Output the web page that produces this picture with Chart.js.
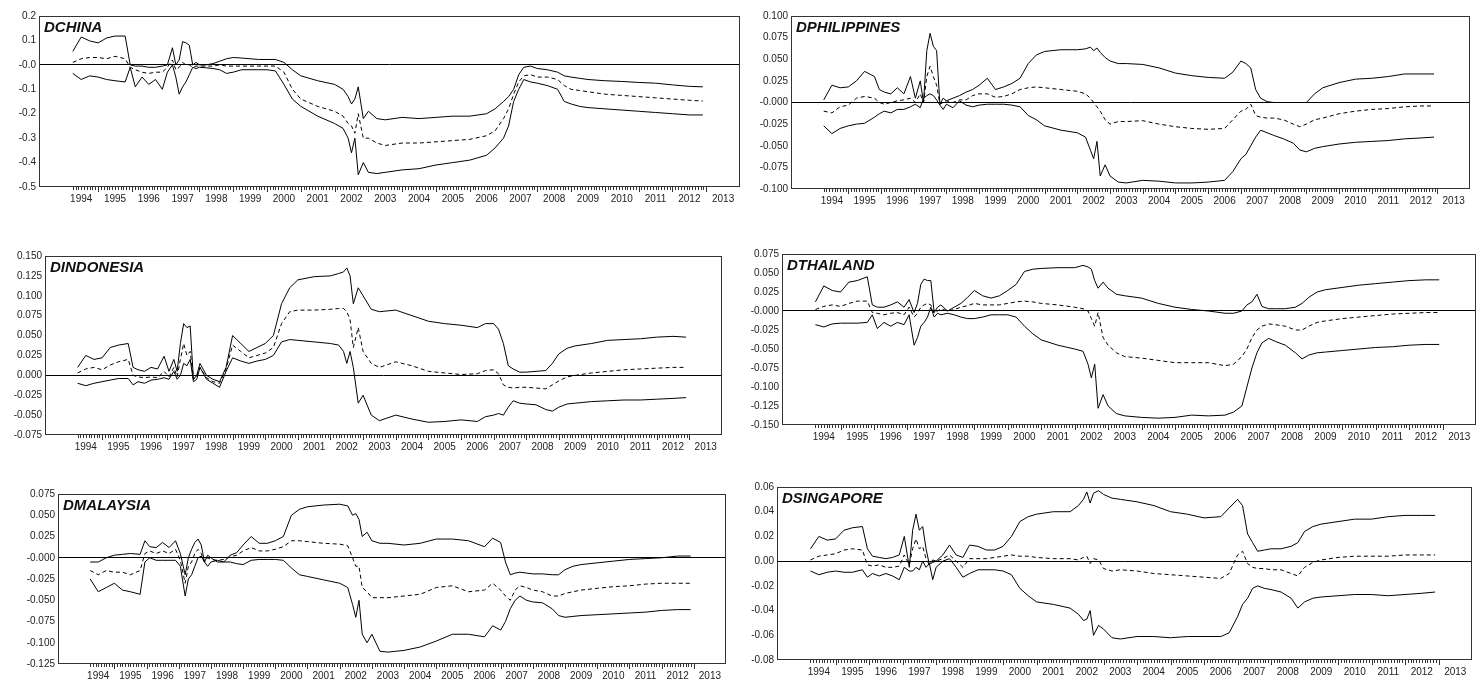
<!DOCTYPE html>
<html>
<head>
<meta charset="utf-8">
<script src="https://cdn.jsdelivr.net/npm/chart.js@4.4.1/dist/chart.umd.min.js"></script>
<style>
  html, body { margin: 0; padding: 0; background: #fff; overflow: hidden; }
  #page { position: relative; width: 1476px; height: 694px; }
  canvas { position: absolute; }
</style>
</head>
<body>
<div id="page"></div>
<script>
// time axis shared by all six panels (decimal years)
const dates = [
  1994.25, 1994.5, 1994.75, 1995.0, 1995.25, 1995.5, 1995.8, 1995.95, 1996.1, 1996.3,
  1996.5, 1996.7, 1996.9, 1997.05, 1997.2, 1997.3, 1997.4, 1997.5, 1997.6, 1997.7,
  1997.8, 1997.9, 1998.0, 1998.2, 1998.4, 1998.6, 1998.8, 1999.0, 1999.25, 1999.5,
  1999.75, 2000.0, 2000.25, 2000.5, 2000.75, 2001.0, 2001.5, 2002.0, 2002.25, 2002.4,
  2002.5, 2002.6, 2002.7, 2002.85, 2003.0, 2003.25, 2003.5, 2004.0, 2004.5, 2005.0,
  2005.5, 2006.0, 2006.5, 2006.75, 2007.0, 2007.15, 2007.3, 2007.45, 2007.6, 2007.8,
  2008.0, 2008.3, 2008.6, 2008.8, 2009.0, 2009.25, 2009.5, 2010.0, 2010.5, 2011.0,
  2011.5, 2012.0, 2012.5, 2012.9
];

const yearLabels = ['1994', '1995', '1996', '1997', '1998', '1999', '2000', '2001', '2002', '2003',
  '2004', '2005', '2006', '2007', '2008', '2009', '2010', '2011', '2012', '2013'];

// DCHINA
const chinaTicks = ['0.2', '0.1', '-0.0', '-0.1', '-0.2', '-0.3', '-0.4', '-0.5'];
const chinaUpper = [
  0.055, 0.114, 0.098, 0.09, 0.11, 0.118, 0.118, 0.0, -0.005, -0.005,
  -0.01, -0.01, -0.005, 0.0, 0.07, 0.0, 0.02, 0.095, 0.09, 0.08,
  0.0, 0.01, 0.0, 0.0, 0.005, 0.015, 0.025, 0.03, 0.028, 0.025,
  0.022, 0.022, 0.022, 0.01, -0.02, -0.045, -0.065, -0.08, -0.1, -0.13,
  -0.16, -0.14, -0.09, -0.22, -0.19, -0.22, -0.225, -0.215, -0.22, -0.215,
  -0.21, -0.21, -0.2, -0.18, -0.15, -0.13, -0.1, -0.04, -0.01, -0.005,
  -0.015, -0.02, -0.03, -0.045, -0.05, -0.055, -0.06, -0.065, -0.068, -0.072,
  -0.075, -0.082, -0.088, -0.09
];
const chinaMid = [
  0.01, 0.025, 0.03, 0.03, 0.025, 0.035, 0.025, -0.01, -0.02, -0.03,
  -0.035, -0.03, -0.03, -0.01, 0.02, -0.02, -0.01, 0.01, 0.0, 0.0,
  -0.01, -0.005, -0.005, -0.005, -0.005, 0.0, -0.005, -0.005, -0.005, -0.005,
  -0.005, -0.005, -0.005, -0.03, -0.1, -0.14, -0.17, -0.19, -0.21, -0.24,
  -0.25, -0.28, -0.2, -0.3, -0.3, -0.32, -0.33, -0.32, -0.32, -0.315,
  -0.31, -0.305, -0.29, -0.27, -0.22, -0.18, -0.12, -0.07, -0.045, -0.04,
  -0.05, -0.05, -0.06, -0.085, -0.1, -0.105, -0.11, -0.12, -0.125, -0.13,
  -0.135, -0.14, -0.145, -0.148
];
const chinaLower = [
  -0.035, -0.06, -0.045, -0.05, -0.06, -0.065, -0.07, -0.01, -0.09, -0.05,
  -0.08, -0.06, -0.1, -0.03, 0.0, -0.05, -0.12, -0.09, -0.07, -0.04,
  -0.01, -0.015, -0.01, -0.012, -0.015, -0.02, -0.035, -0.03, -0.02, -0.02,
  -0.02, -0.02, -0.025, -0.08, -0.14, -0.17, -0.21, -0.24, -0.26, -0.3,
  -0.36, -0.3, -0.45, -0.4, -0.44, -0.445, -0.44, -0.43, -0.425, -0.41,
  -0.4, -0.39, -0.37, -0.34, -0.3, -0.25, -0.15, -0.1, -0.06, -0.07,
  -0.075, -0.085, -0.1, -0.15, -0.16, -0.17, -0.175, -0.18, -0.185, -0.19,
  -0.195, -0.2, -0.205, -0.205
];

// DPHILIPPINES
const phTicks = ['0.100', '0.075', '0.050', '0.025', '-0.000', '-0.025', '-0.050', '-0.075', '-0.100'];
const phUpper = [
  0.003, 0.02, 0.017, 0.018, 0.025, 0.036, 0.03, 0.015, 0.012, 0.01,
  0.017, 0.01, 0.03, 0.005, 0.025, 0.0, 0.06, 0.08, 0.065, 0.06,
  -0.002, 0.005, 0.002, 0.005, 0.008, 0.012, 0.015, 0.02, 0.028, 0.015,
  0.018, 0.022, 0.028, 0.045, 0.055, 0.059, 0.061, 0.061, 0.062, 0.064,
  0.06, 0.063, 0.058, 0.052, 0.048, 0.045, 0.045, 0.044, 0.04, 0.034,
  0.031, 0.029, 0.028, 0.035, 0.048, 0.045, 0.04, 0.015, 0.005, 0.001,
  0.0, 0.0, 0.0, 0.0, 0.0, 0.01, 0.017, 0.023, 0.027, 0.028,
  0.03, 0.033, 0.033, 0.033
];
const phMid = [
  -0.01, -0.012, -0.005, -0.003, 0.005, 0.007, 0.005, 0.0, -0.002, 0.0,
  0.002, 0.003, 0.005, 0.0, 0.01, 0.0, 0.03, 0.042, 0.03, 0.02,
  -0.002, 0.0, 0.002, 0.0, 0.003, 0.003, 0.008, 0.01, 0.01, 0.006,
  0.007, 0.01, 0.015, 0.017, 0.018, 0.017, 0.015, 0.013, 0.01, 0.005,
  0.0, -0.005, -0.01, -0.02, -0.025, -0.022, -0.022, -0.021, -0.025, -0.028,
  -0.03, -0.031, -0.03, -0.02, -0.01, -0.008, -0.002, -0.015, -0.017, -0.018,
  -0.018, -0.02, -0.025, -0.028, -0.025, -0.02, -0.018, -0.013, -0.01, -0.008,
  -0.007, -0.005, -0.004, -0.004
];
const phLower = [
  -0.027, -0.036, -0.03, -0.027, -0.025, -0.024, -0.017, -0.013, -0.01, -0.012,
  -0.008, -0.008, -0.005, -0.002, -0.006, 0.005, 0.008, 0.01, 0.008, 0.003,
  -0.003, -0.008, -0.002, -0.006, 0.002, -0.003, -0.005, -0.003, -0.002, -0.002,
  -0.002, -0.003, -0.005, -0.015, -0.02, -0.027, -0.032, -0.035, -0.04, -0.055,
  -0.065, -0.045, -0.085, -0.072, -0.085, -0.092, -0.093, -0.09, -0.091, -0.093,
  -0.093, -0.092, -0.09, -0.08, -0.065, -0.06, -0.05, -0.04, -0.032, -0.035,
  -0.038, -0.042, -0.047, -0.055, -0.057, -0.053, -0.051, -0.048, -0.046, -0.045,
  -0.044, -0.042, -0.041, -0.04
];

// DINDONESIA
const idTicks = ['0.150', '0.125', '0.100', '0.075', '0.050', '0.025', '0.000', '-0.025', '-0.050', '-0.075'];
const idUpper = [
  0.01, 0.025, 0.02, 0.022, 0.035, 0.038, 0.04, 0.01, 0.007, 0.005,
  0.01, 0.008, 0.024, 0.005, 0.02, 0.005, 0.04, 0.065, 0.06, 0.062,
  -0.005, 0.0, 0.015, 0.0, -0.005, -0.008, 0.01, 0.05, 0.04, 0.03,
  0.035, 0.04, 0.05, 0.09, 0.11, 0.12, 0.124, 0.125, 0.128, 0.13,
  0.135, 0.125, 0.09, 0.11, 0.1, 0.083, 0.08, 0.082, 0.075, 0.068,
  0.065, 0.063, 0.06, 0.065, 0.065, 0.058, 0.04, 0.012, 0.008, 0.004,
  0.004, 0.005, 0.006, 0.015, 0.027, 0.034, 0.037, 0.04, 0.044, 0.045,
  0.046, 0.048, 0.049, 0.048
];
const idMid = [
  0.003, 0.008, 0.01, 0.007, 0.013, 0.017, 0.02, 0.0, -0.002, -0.003,
  -0.002, -0.003, 0.005, -0.002, 0.01, -0.002, 0.02, 0.04, 0.025, 0.03,
  -0.005, -0.002, 0.01, -0.003, -0.008, -0.01, 0.008, 0.038, 0.03, 0.022,
  0.025, 0.028, 0.035, 0.065, 0.08, 0.082, 0.082, 0.083, 0.084, 0.084,
  0.08, 0.07, 0.035, 0.06, 0.03, 0.015, 0.01, 0.017, 0.012, 0.005,
  0.003, 0.001, 0.002, 0.006, 0.007, 0.002, -0.012, -0.015, -0.016, -0.015,
  -0.015, -0.016, -0.017, -0.012, -0.007, -0.002, 0.0, 0.003, 0.005, 0.007,
  0.008, 0.009, 0.01, 0.01
];
const idLower = [
  -0.01, -0.013, -0.01, -0.008, -0.006, -0.004, -0.004, -0.012, -0.008, -0.01,
  -0.006, -0.005, -0.003, -0.005, 0.005, -0.005, 0.0, 0.015, 0.012, 0.02,
  -0.008, -0.005, 0.01, -0.005, -0.01, -0.015, 0.005, 0.022, 0.018, 0.015,
  0.018, 0.02, 0.025, 0.042, 0.045, 0.044, 0.042, 0.04, 0.038, 0.03,
  0.015, 0.03, 0.01, -0.035, -0.025, -0.05, -0.057, -0.05, -0.055, -0.059,
  -0.058, -0.056, -0.058, -0.052, -0.05, -0.048, -0.05, -0.04, -0.032, -0.035,
  -0.036, -0.037, -0.043, -0.045, -0.04, -0.036, -0.035, -0.033, -0.032, -0.031,
  -0.031, -0.03, -0.029, -0.028
];

// DTHAILAND
const thTicks = ['0.075', '0.050', '0.025', '-0.000', '-0.025', '-0.050', '-0.075', '-0.100', '-0.125', '-0.150'];
const thUpper = [
  0.012, 0.033, 0.027, 0.025, 0.038, 0.04, 0.045, 0.008, 0.005, 0.005,
  0.008, 0.012, 0.005, 0.015, -0.002, 0.01, 0.035, 0.042, 0.04, 0.04,
  -0.002, 0.005, 0.008, 0.0, 0.005, 0.01, 0.018, 0.027, 0.02, 0.017,
  0.02, 0.027, 0.035, 0.052, 0.055, 0.056, 0.057, 0.057, 0.06, 0.058,
  0.055, 0.04, 0.03, 0.038, 0.03, 0.022, 0.02, 0.017, 0.01, 0.005,
  0.002, 0.0, -0.003, -0.003, 0.0, 0.008, 0.012, 0.022, 0.006, 0.003,
  0.003, 0.003, 0.005, 0.01, 0.018, 0.025, 0.028, 0.031, 0.034, 0.036,
  0.038, 0.04, 0.041, 0.041
];
const thMid = [
  0.002, 0.006, 0.008, 0.006, 0.01, 0.013, 0.013, -0.002, -0.003, -0.005,
  -0.003, -0.002, -0.005, 0.005, -0.008, -0.003, 0.005, 0.008, 0.01, 0.008,
  -0.003, 0.0, 0.003, 0.0, 0.002, 0.005, 0.007, 0.01, 0.008, 0.008,
  0.008, 0.01, 0.012, 0.013, 0.012, 0.01, 0.008, 0.005, 0.003, 0.0,
  -0.01, -0.02, -0.002, -0.035, -0.045, -0.055, -0.06, -0.062, -0.065, -0.068,
  -0.068, -0.068, -0.072, -0.07, -0.06, -0.05, -0.035, -0.025, -0.02, -0.017,
  -0.018, -0.02, -0.025, -0.025, -0.02, -0.015, -0.013, -0.01, -0.008, -0.006,
  -0.004, -0.003, -0.002, -0.002
];
const thLower = [
  -0.018, -0.021, -0.017, -0.016, -0.016, -0.016, -0.015, -0.005, -0.023, -0.015,
  -0.02, -0.015, -0.018, -0.005, -0.045, -0.035, -0.02, -0.015, -0.008, 0.005,
  -0.008, -0.003, -0.005, -0.003, -0.005, -0.008, -0.01, -0.01, -0.008, -0.005,
  -0.005, -0.005, -0.008, -0.02, -0.03, -0.038, -0.045, -0.05, -0.053, -0.07,
  -0.088, -0.07, -0.128, -0.11, -0.125, -0.135, -0.138, -0.14, -0.141, -0.14,
  -0.137, -0.138, -0.137, -0.133, -0.125, -0.1, -0.075, -0.055, -0.042, -0.036,
  -0.04, -0.045, -0.055, -0.063, -0.058, -0.055, -0.054, -0.052, -0.05, -0.048,
  -0.047, -0.045, -0.044, -0.044
];

// DMALAYSIA
const myTicks = ['0.075', '0.050', '0.025', '-0.000', '-0.025', '-0.050', '-0.075', '-0.100', '-0.125'];
const myUpper = [
  -0.005, -0.005, 0.0, 0.003, 0.004, 0.005, 0.004, 0.02, 0.013, 0.012,
  0.018, 0.012, 0.02, 0.005, -0.02, 0.0, 0.01, 0.018, 0.022, 0.015,
  -0.005, 0.003, 0.0, -0.005, -0.005, 0.003, 0.006, 0.015, 0.025, 0.017,
  0.017, 0.02, 0.025, 0.05, 0.057, 0.06, 0.062, 0.063, 0.061, 0.05,
  0.052, 0.045, 0.025, 0.03, 0.02, 0.017, 0.017, 0.015, 0.017, 0.022,
  0.022, 0.02, 0.013, 0.023, 0.018, -0.005, -0.02, -0.018, -0.017, -0.018,
  -0.019, -0.019, -0.02, -0.02, -0.014, -0.01, -0.008, -0.006, -0.004, -0.002,
  -0.001, 0.0, 0.002, 0.002
];
const myMid = [
  -0.015, -0.02, -0.015, -0.017, -0.017, -0.02, -0.015, 0.005, 0.008, 0.005,
  0.008, 0.005, 0.01, -0.003, -0.03, -0.01, -0.005, 0.005, 0.01, 0.005,
  -0.005, 0.0, -0.002, -0.003, -0.002, 0.001, 0.003, 0.008, 0.012, 0.008,
  0.008, 0.01, 0.013, 0.02, 0.02, 0.019, 0.017, 0.016, 0.014, 0.0,
  -0.01, -0.01, -0.035, -0.04, -0.047, -0.047, -0.047, -0.045, -0.043, -0.035,
  -0.033, -0.04, -0.038, -0.03, -0.038, -0.045, -0.05, -0.038, -0.033, -0.035,
  -0.038, -0.04, -0.045, -0.045, -0.042, -0.04, -0.038, -0.036, -0.034, -0.033,
  -0.031, -0.03, -0.03, -0.03
];
const myLower = [
  -0.025, -0.04, -0.035, -0.03, -0.038, -0.04, -0.043, -0.005, 0.0, -0.003,
  -0.003, -0.003, -0.003, -0.01, -0.045, -0.025, -0.02, -0.01, 0.0, 0.002,
  -0.005, -0.01, -0.005, -0.003, -0.005, -0.005, -0.007, -0.008, -0.003, -0.002,
  -0.002, -0.002, -0.003, -0.012, -0.02, -0.022, -0.026, -0.03, -0.035, -0.055,
  -0.07, -0.05, -0.09, -0.1, -0.09, -0.11, -0.111, -0.109, -0.105, -0.098,
  -0.09, -0.09, -0.093, -0.08, -0.085, -0.075, -0.06, -0.05, -0.045, -0.05,
  -0.052, -0.053, -0.06, -0.068, -0.07, -0.069, -0.068, -0.067, -0.066, -0.065,
  -0.064, -0.062, -0.061, -0.061
];

// DSINGAPORE
const sgTicks = ['0.06', '0.04', '0.02', '0.00', '-0.02', '-0.04', '-0.06', '-0.08'];
const sgUpper = [
  0.01, 0.02, 0.017, 0.018, 0.025, 0.027, 0.028, 0.01, 0.004, 0.003,
  0.002, 0.003, 0.005, 0.02, -0.005, 0.025, 0.038, 0.025, 0.028, 0.01,
  -0.003, 0.001, 0.0, 0.005, 0.013, 0.005, 0.003, 0.013, 0.012, 0.009,
  0.009, 0.012, 0.02, 0.032, 0.036, 0.038, 0.04, 0.04, 0.045, 0.05,
  0.056, 0.047, 0.055, 0.057, 0.054, 0.051, 0.05, 0.048, 0.045, 0.04,
  0.038, 0.035, 0.036, 0.043, 0.05, 0.045, 0.022, 0.015, 0.008, 0.009,
  0.01, 0.01, 0.012, 0.015, 0.024, 0.028, 0.03, 0.032, 0.034, 0.034,
  0.036, 0.037, 0.037, 0.037
];
const sgMid = [
  0.001, 0.004, 0.005, 0.006, 0.009, 0.01, 0.009, -0.003, -0.004, -0.003,
  -0.005, -0.005, -0.004, 0.005, -0.003, 0.01, 0.018, 0.01, 0.012, 0.002,
  -0.003, -0.001, 0.0, 0.002, 0.005, 0.0, -0.005, 0.002, 0.002, 0.002,
  0.003, 0.004, 0.005, 0.004, 0.004, 0.003, 0.002, 0.002, 0.001, 0.003,
  0.004, -0.002, 0.002, 0.001, -0.006, -0.008, -0.007, -0.008, -0.01, -0.011,
  -0.012, -0.013, -0.014, -0.01, 0.005, 0.008, -0.002, -0.005, -0.006, -0.006,
  -0.007, -0.007, -0.01, -0.012, -0.005, -0.001, 0.001, 0.003, 0.004, 0.004,
  0.004, 0.005, 0.005, 0.005
];
const sgLower = [
  -0.008, -0.011, -0.009, -0.008, -0.009, -0.009, -0.007, -0.013, -0.01, -0.012,
  -0.01, -0.012, -0.015, -0.005, -0.008, -0.008, -0.005, -0.007, 0.0, -0.005,
  -0.002, -0.015, -0.005, 0.0, 0.002, -0.005, -0.013, -0.01, -0.007, -0.007,
  -0.007, -0.008, -0.011, -0.022, -0.028, -0.033, -0.035, -0.038, -0.043, -0.048,
  -0.047, -0.04, -0.06, -0.052, -0.055, -0.062, -0.063, -0.061, -0.061, -0.062,
  -0.061, -0.061, -0.061, -0.058, -0.045, -0.035, -0.03, -0.022, -0.02, -0.022,
  -0.023, -0.025, -0.03, -0.038, -0.033, -0.03, -0.029, -0.028, -0.027, -0.027,
  -0.028, -0.027, -0.026, -0.025
];

// panel frames on the page (plot box edges in px)
const panels = [
  { title: 'DCHINA', ticks: chinaTicks, upper: chinaUpper, mid: chinaMid, lower: chinaLower, l: 39, t: 15, r: 740, b: 187 },
  { title: 'DPHILIPPINES', ticks: phTicks, upper: phUpper, mid: phMid, lower: phLower, l: 791, t: 15, r: 1470, b: 189 },
  { title: 'DINDONESIA', ticks: idTicks, upper: idUpper, mid: idMid, lower: idLower, l: 45, t: 255, r: 722, b: 435 },
  { title: 'DTHAILAND', ticks: thTicks, upper: thUpper, mid: thMid, lower: thLower, l: 782, t: 253, r: 1476, b: 425 },
  { title: 'DMALAYSIA', ticks: myTicks, upper: myUpper, mid: myMid, lower: myLower, l: 58, t: 493, r: 726, b: 664 },
  { title: 'DSINGAPORE', ticks: sgTicks, upper: sgUpper, mid: sgMid, lower: sgLower, l: 777, t: 486, r: 1472, b: 660 }
];

const AXW = 38;   // room for y labels
const AXH = 26;   // room for x labels
const PADT = 8;
const PADR = 4;
const FONT = '"Liberation Sans", Arial, sans-serif';

// box round the plot area
const framePlugin = {
  id: 'frame',
  afterDraw(chart) {
    const a = chart.chartArea, ctx = chart.ctx;
    ctx.save();
    ctx.strokeStyle = '#333';
    ctx.lineWidth = 1;
    ctx.strokeRect(a.left + 0.5, a.top + 0.5, a.right - a.left - 1, a.bottom - a.top - 1);
    ctx.restore();
  }
};

// monthly tick marks under the data span, longer ones at year starts
const monthTicks = {
  id: 'monthTicks',
  afterDraw(chart) {
    const xs = chart.scales.x, ctx = chart.ctx, bottom = chart.chartArea.bottom;
    ctx.save();
    ctx.strokeStyle = '#333';
    ctx.lineWidth = 1;
    ctx.beginPath();
    for (let k = 0; k <= 225; k++) {
      const x = Math.round(xs.getPixelForValue(1994.25 + k / 12)) + 0.5;
      const len = (k % 12 === 9) ? 5 : 3;
      ctx.moveTo(x, bottom);
      ctx.lineTo(x, bottom + len);
    }
    ctx.stroke();
    ctx.restore();
  }
};

const titlePlugin = {
  id: 'panelTitle',
  afterDraw(chart, args, opts) {
    const a = chart.chartArea, ctx = chart.ctx;
    ctx.save();
    ctx.font = 'italic bold 15px ' + FONT;
    ctx.fillStyle = '#111';
    ctx.textBaseline = 'top';
    ctx.fillText(opts.text, a.left + 5, a.top + 4);
    ctx.restore();
  }
};

function toPoints(values) {
  return values.map((v, i) => ({ x: dates[i], y: v }));
}

function lineSet(values, dash) {
  return {
    data: toPoints(values),
    borderColor: '#000',
    borderWidth: 1,
    borderDash: dash,
    pointRadius: 0,
    tension: 0,
    fill: false
  };
}

const page = document.getElementById('page');

panels.forEach(p => {
  const canvas = document.createElement('canvas');
  const w = p.r - p.l + AXW + PADR;
  const h = p.b - p.t + PADT + AXH;
  canvas.width = w;
  canvas.height = h;
  canvas.style.width = w + 'px';
  canvas.style.height = h + 'px';
  canvas.style.left = (p.l - AXW) + 'px';
  canvas.style.top = (p.t - PADT) + 'px';
  page.appendChild(canvas);

  new Chart(canvas, {
    type: 'line',
    data: {
      datasets: [lineSet(p.upper, []), lineSet(p.mid, [4, 3]), lineSet(p.lower, [])]
    },
    options: {
      responsive: false,
      animation: false,
      devicePixelRatio: 1,
      events: [],
      layout: { padding: { top: PADT, right: PADR, left: 0, bottom: 0 } },
      plugins: {
        legend: { display: false },
        tooltip: { enabled: false },
        panelTitle: { text: p.title }
      },
      scales: {
        x: {
          type: 'linear',
          min: 1993.25,
          max: 2014,
          afterBuildTicks: s => { s.ticks = yearLabels.map(l => ({ value: Number(l) + 0.5 })); },
          afterFit: s => { s.height = AXH; },
          grid: { display: false, drawTicks: false },
          border: { display: false },
          ticks: {
            autoSkip: false,
            maxRotation: 0,
            padding: 6,
            color: '#222',
            font: { family: FONT, size: 10 },
            callback: v => String(Math.floor(v))
          }
        },
        y: {
          min: parseFloat(p.ticks[p.ticks.length - 1]),
          max: parseFloat(p.ticks[0]),
          afterBuildTicks: s => { s.ticks = p.ticks.map(l => ({ value: parseFloat(l) })); },
          afterFit: s => { s.width = AXW; },
          grid: {
            drawTicks: false,
            lineWidth: 1,
            color: c => (c.tick && c.tick.value === 0) ? '#000' : 'rgba(0,0,0,0)'
          },
          border: { display: false },
          ticks: {
            padding: 3,
            color: '#222',
            font: { family: FONT, size: 10 },
            callback: v => p.ticks.find(l => parseFloat(l) === v)
          }
        }
      }
    },
    plugins: [framePlugin, monthTicks, titlePlugin]
  });
});
</script>
</body>
</html>
